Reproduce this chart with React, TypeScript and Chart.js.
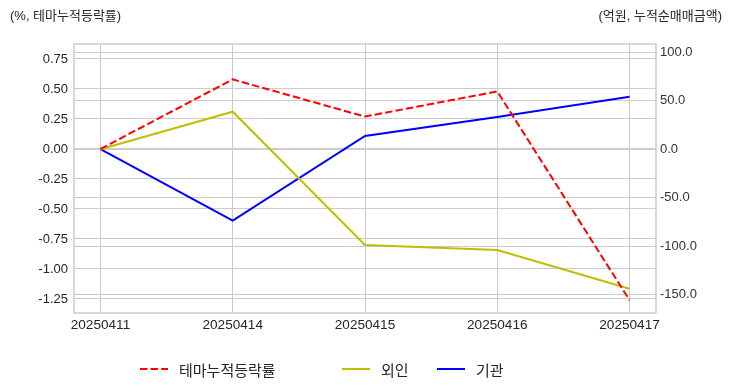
import React, { useEffect, useRef } from 'react';
import { Chart, registerables } from 'chart.js';

Chart.register(...registerables);

const dates = ['20250411', '20250414', '20250415', '20250416', '20250417'];
const themeReturn = [0, 0.58, 0.27, 0.48, -1.26];
const foreignNet = [0, 38.7, -98.8, -104.0, -143.9];
const institutionNet = [0, -73.7, 13.6, 33.2, 54.1];
const leftTicks = [-1.25, -1.0, -0.75, -0.5, -0.25, 0, 0.25, 0.5, 0.75];
const rightTicks = [-150, -100, -50, 0, 50, 100];
const leftMin = -1.367;
const leftMax = 0.875;
const rightMin = -168.9;
const rightMax = 108.5;
const seriesNames = ['테마누적등락률', '외인', '기관'];
const seriesColors = ['#ff0000', '#bfbf00', '#0000ff'];
const leftTitle = '(%, 테마누적등락률)';
const rightTitle = '(억원, 누적순매매금액)';

const FONT = "'Liberation Sans', 'Noto Sans CJK KR', sans-serif";
const KFONT = "'Noto Sans CJK KR', 'Liberation Sans', sans-serif";
const TEXT = '#262626';
const GRID = '#cccccc';
const DASH = [7.4, 3.2];

const decor = {
  id: 'decor',
  beforeDatasetsDraw(chart: any) {
    const { ctx, chartArea: a } = chart;
    ctx.save();
    ctx.strokeStyle = GRID;
    ctx.lineWidth = 1.5;
    ctx.strokeRect(a.left, a.top, a.right - a.left, a.bottom - a.top);
    ctx.restore();
  },
  afterDraw(chart: any) {
    const { ctx, chartArea: a } = chart;
    ctx.save();
    ctx.fillStyle = TEXT;
    ctx.font = `13px ${FONT}`;
    ctx.textBaseline = 'middle';
    ctx.textAlign = 'left';
    ctx.fillText(leftTitle, 10, 16);
    ctx.textAlign = 'right';
    ctx.fillText(rightTitle, chart.width - 10, 16);

    // legend
    const ly = a.bottom + 56;
    const starts = [a.left + 66, a.left + 268, a.left + 363];
    ctx.font = `15px ${KFONT}`;
    ctx.textAlign = 'left';
    seriesNames.forEach((name, i) => {
      const x = starts[i];
      ctx.strokeStyle = seriesColors[i];
      ctx.lineWidth = 2;
      ctx.setLineDash(i === 0 ? DASH : []);
      ctx.beginPath();
      ctx.moveTo(x, ly);
      ctx.lineTo(x + 28, ly);
      ctx.stroke();
      ctx.setLineDash([]);
      ctx.fillStyle = TEXT;
      ctx.fillText(name, x + 39, ly + 1);
    });
    ctx.restore();
  },
};

export default function App() {
  const ref = useRef<HTMLCanvasElement | null>(null);
  useEffect(() => {
    if (!ref.current) return;
    const pts = (arr: number[]) => arr.map((v, i) => ({ x: i, y: v }));
    const chart = new Chart(ref.current, {
      type: 'line',
      data: {
        datasets: [
          {
            label: seriesNames[0],
            data: pts(themeReturn),
            borderColor: seriesColors[0],
            borderWidth: 2,
            borderDash: DASH,
            pointRadius: 0,
            yAxisID: 'yL',
            tension: 0,
          },
          {
            label: seriesNames[1],
            data: pts(foreignNet),
            borderColor: seriesColors[1],
            borderWidth: 2,
            pointRadius: 0,
            yAxisID: 'yR',
            tension: 0,
          },
          {
            label: seriesNames[2],
            data: pts(institutionNet),
            borderColor: seriesColors[2],
            borderWidth: 2,
            pointRadius: 0,
            yAxisID: 'yR',
            tension: 0,
          },
        ],
      },
      options: {
        animation: false,
        responsive: false,
        maintainAspectRatio: false,
        layout: { padding: { top: 44, left: 0, right: 0, bottom: 0 } },
        plugins: { legend: { display: false }, tooltip: { enabled: false } },
        scales: {
          x: {
            type: 'linear',
            position: 'bottom',
            min: -0.2,
            max: 4.2,
            afterBuildTicks: (s: any) => {
              s.ticks = dates.map((_, i) => ({ value: i }));
            },
            afterFit: (s: any) => {
              s.height = 79;
            },
            grid: { color: GRID, lineWidth: 1, drawTicks: false },
            border: { display: false },
            ticks: {
              autoSkip: false,
              maxRotation: 0,
              padding: 4,
              color: TEXT,
              font: { size: 13.6, family: FONT },
              callback: (v: any) => dates[v] ?? '',
            },
          },
          yL: {
            type: 'linear',
            position: 'left',
            min: leftMin,
            max: leftMax,
            afterBuildTicks: (s: any) => {
              s.ticks = leftTicks.map((v) => ({ value: v }));
            },
            afterFit: (s: any) => {
              s.width = 74;
            },
            grid: { color: GRID, lineWidth: 1, drawTicks: false },
            border: { display: false },
            ticks: {
              padding: 6,
              color: TEXT,
              font: { size: 13, family: FONT },
              callback: (v: any) => Number(v).toFixed(2),
            },
          },
          yR: {
            type: 'linear',
            position: 'right',
            min: rightMin,
            max: rightMax,
            afterBuildTicks: (s: any) => {
              s.ticks = rightTicks.map((v) => ({ value: v }));
            },
            afterFit: (s: any) => {
              s.width = 76;
            },
            grid: { color: GRID, lineWidth: 1, drawTicks: false },
            border: { display: false },
            ticks: {
              padding: 4,
              color: '#333333',
              font: { size: 13, family: FONT },
              callback: (v: any) => Number(v).toFixed(1),
            },
          },
        },
      },
      plugins: [decor],
    });
    return () => chart.destroy();
  }, []);
  return (
    <div style={{ position: 'absolute', left: 0, top: 0, width: 732, height: 392, background: '#fff' }}>
      <canvas ref={ref} width={732} height={392} style={{ width: 732, height: 392 }} />
    </div>
  );
}
